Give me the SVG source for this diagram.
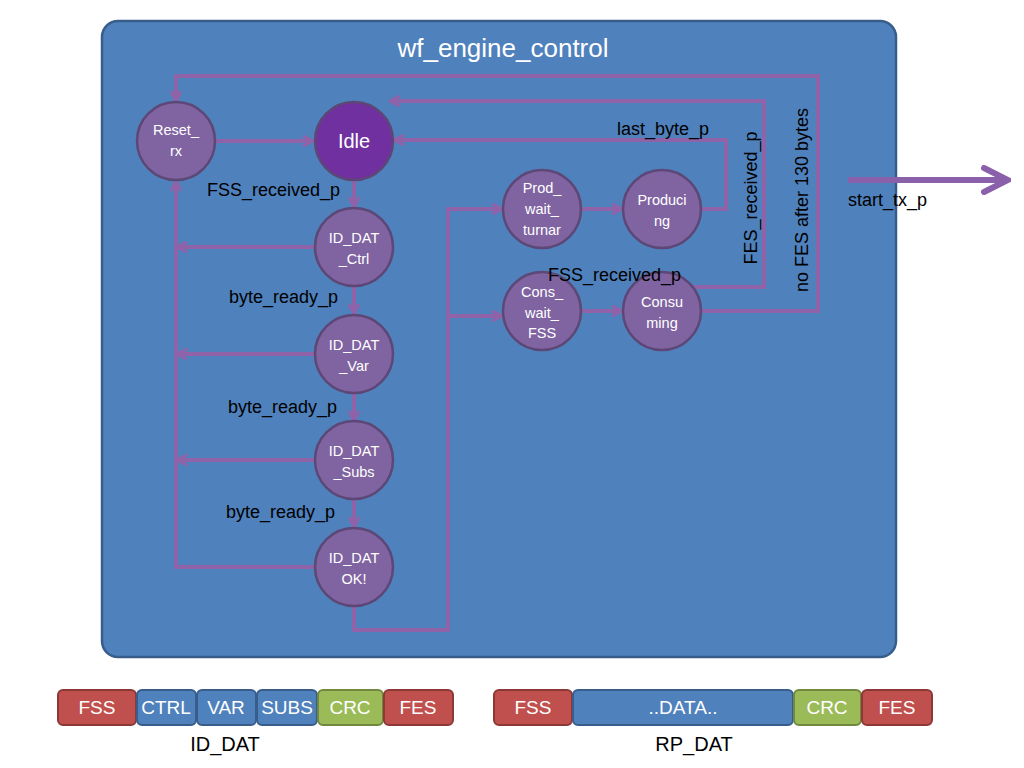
<svg xmlns="http://www.w3.org/2000/svg" width="1024" height="768" viewBox="0 0 1024 768">
<defs>
<marker id="ah" viewBox="0 0 12 12" refX="11" refY="6" markerWidth="12" markerHeight="12" markerUnits="userSpaceOnUse" orient="auto">
<path d="M1,1 L11,6 L1,11" fill="none" stroke="#9062A8" stroke-width="3"/>
</marker>
<marker id="ahb" viewBox="0 0 30 30" refX="27" refY="15" markerWidth="30" markerHeight="30" markerUnits="userSpaceOnUse" orient="auto">
<path d="M3,3 L27,15 L3,27" fill="none" stroke="#8A60AA" stroke-width="6" stroke-linecap="round"/>
</marker>
<style>
.node{fill:#8064A2;stroke:#5C4776;stroke-width:2.5}
.idle{fill:#7030A0;stroke:#5C4776;stroke-width:2.5}
.nt{font-family:"Liberation Sans",Arial,sans-serif;font-size:14.5px;fill:#FFFFFF;text-anchor:middle}
.big{font-size:20px}
.lbl{font-family:"Liberation Sans",Arial,sans-serif;font-size:18px;fill:#000000}
.c{fill:none;stroke:#9062A8;stroke-width:4}
.ca{fill:none;stroke:#9062A8;stroke-width:4;marker-end:url(#ah)}
.seg{font-family:"Liberation Sans",Arial,sans-serif;font-size:19px;fill:#FFFFFF;text-anchor:middle}
.red{fill:#C0504D;stroke:#8C3836;stroke-width:2}
.blue{fill:#4F81BD;stroke:#385D8A;stroke-width:2}
.green{fill:#9BBB59;stroke:#71893F;stroke-width:2}
</style>
</defs>
<rect width="1024" height="768" fill="#FFFFFF"/>
<g id="container">
<rect x="102" y="21" width="794" height="636" rx="16" fill="#4F81BD" stroke="#385D8A" stroke-width="2.5"/>
<text x="503" y="57" font-family="Liberation Sans,Arial,sans-serif" font-size="26" fill="#FFFFFF" text-anchor="middle">wf_engine_control</text>
</g>
<g id="connectors">
<line class="ca" x1="215" y1="141" x2="313" y2="141"/>
<line class="ca" x1="354" y1="180" x2="354" y2="207"/>
<line class="ca" x1="354" y1="286" x2="354" y2="314"/>
<line class="ca" x1="354" y1="393" x2="354" y2="421"/>
<line class="ca" x1="354" y1="499" x2="354" y2="527"/>
<line class="ca" x1="315" y1="247" x2="177" y2="247"/>
<line class="ca" x1="315" y1="354" x2="177" y2="354"/>
<line class="ca" x1="315" y1="460" x2="177" y2="460"/>
<polyline class="ca" points="315,567 176,567 176,181"/>
<polyline class="ca" points="354,606 354,630 448,630 448,209 502,209"/>
<line class="ca" x1="448" y1="316" x2="502" y2="316"/>
<line class="ca" x1="582" y1="209" x2="622" y2="209"/>
<line class="ca" x1="582" y1="311" x2="622" y2="311"/>
<polyline class="ca" points="700,209 726,209 726,140 394,140"/>
<polyline class="ca" points="692,287 764,287 764,101 390,101"/>
<polyline class="ca" points="700,311 818,311 818,76 176,76 176,101"/>
<line x1="848" y1="180" x2="1008" y2="180" stroke="#8A60AA" stroke-width="6" marker-end="url(#ahb)"/>
</g>
<g id="reset_rx">
<circle class="node" cx="176" cy="141" r="39"/>
<text class="nt" x="176" y="135">Reset_</text>
<text class="nt" x="176" y="156">rx</text>
</g>
<g id="idle">
<circle class="idle" cx="354" cy="141" r="39"/>
<text class="nt big" x="354" y="148">Idle</text>
</g>
<g id="id_dat_ctrl">
<circle class="node" cx="354" cy="247" r="39"/>
<text class="nt" x="354" y="243">ID_DAT</text>
<text class="nt" x="354" y="264">_Ctrl</text>
</g>
<g id="id_dat_var">
<circle class="node" cx="354" cy="354" r="39"/>
<text class="nt" x="354" y="350">ID_DAT</text>
<text class="nt" x="354" y="371">_Var</text>
</g>
<g id="id_dat_subs">
<circle class="node" cx="354" cy="460" r="39"/>
<text class="nt" x="354" y="456">ID_DAT</text>
<text class="nt" x="354" y="477">_Subs</text>
</g>
<g id="id_dat_ok">
<circle class="node" cx="354" cy="567" r="39"/>
<text class="nt" x="354" y="563">ID_DAT</text>
<text class="nt" x="354" y="584">OK!</text>
</g>
<g id="prod_wait_turnar">
<circle class="node" cx="542" cy="209" r="39"/>
<text class="nt" x="542" y="193">Prod_</text>
<text class="nt" x="542" y="214">wait_</text>
<text class="nt" x="542" y="235">turnar</text>
</g>
<g id="producing">
<circle class="node" cx="662" cy="209" r="39"/>
<text class="nt" x="662" y="205">Produci</text>
<text class="nt" x="662" y="226">ng</text>
</g>
<g id="cons_wait_fss">
<circle class="node" cx="542" cy="311" r="39"/>
<text class="nt" x="542" y="297">Cons_</text>
<text class="nt" x="542" y="318">wait_</text>
<text class="nt" x="542" y="338">FSS</text>
</g>
<g id="consuming">
<circle class="node" cx="662" cy="311" r="39"/>
<text class="nt" x="662" y="307">Consu</text>
<text class="nt" x="662" y="328">ming</text>
</g>
<g id="connector_labels">
<text class="lbl" x="207" y="196">FSS_received_p</text>
<text class="lbl" x="229" y="303">byte_ready_p</text>
<text class="lbl" x="228" y="413">byte_ready_p</text>
<text class="lbl" x="226" y="518">byte_ready_p</text>
<text class="lbl" x="617" y="135">last_byte_p</text>
<text class="lbl" x="548" y="281">FSS_received_p</text>
<text class="lbl" transform="translate(757,198) rotate(-90)" text-anchor="middle">FES_received_p</text>
<text class="lbl" transform="translate(808,200) rotate(-90)" text-anchor="middle">no FES after 130 bytes</text>
<text class="lbl" x="848" y="206">start_tx_p</text>
</g>
<g id="id_dat_frame">
<rect class="red" x="58" y="690" width="78" height="35" rx="5"/>
<text class="seg" x="97" y="714">FSS</text>
<rect class="blue" x="137" y="690" width="59" height="35" rx="5"/>
<text class="seg" x="166" y="714">CTRL</text>
<rect class="blue" x="197" y="690" width="59" height="35" rx="5"/>
<text class="seg" x="226" y="714">VAR</text>
<rect class="blue" x="257" y="690" width="60" height="35" rx="5"/>
<text class="seg" x="287" y="714">SUBS</text>
<rect class="green" x="318" y="690" width="65" height="35" rx="5"/>
<text class="seg" x="350" y="714">CRC</text>
<rect class="red" x="384" y="690" width="69" height="35" rx="5"/>
<text class="seg" x="418" y="714">FES</text>
<text x="225" y="751" font-family="Liberation Sans,Arial,sans-serif" font-size="20" fill="#000000" text-anchor="middle">ID_DAT</text>
</g>
<g id="rp_dat_frame">
<rect class="red" x="494" y="690" width="78" height="35" rx="5"/>
<text class="seg" x="533" y="714">FSS</text>
<rect class="blue" x="573" y="690" width="220" height="35" rx="5"/>
<text class="seg" x="683" y="714">..DATA..</text>
<rect class="green" x="794" y="690" width="67" height="35" rx="5"/>
<text class="seg" x="827" y="714">CRC</text>
<rect class="red" x="862" y="690" width="70" height="35" rx="5"/>
<text class="seg" x="897" y="714">FES</text>
<text x="694" y="751" font-family="Liberation Sans,Arial,sans-serif" font-size="20" fill="#000000" text-anchor="middle">RP_DAT</text>
</g>
</svg>
